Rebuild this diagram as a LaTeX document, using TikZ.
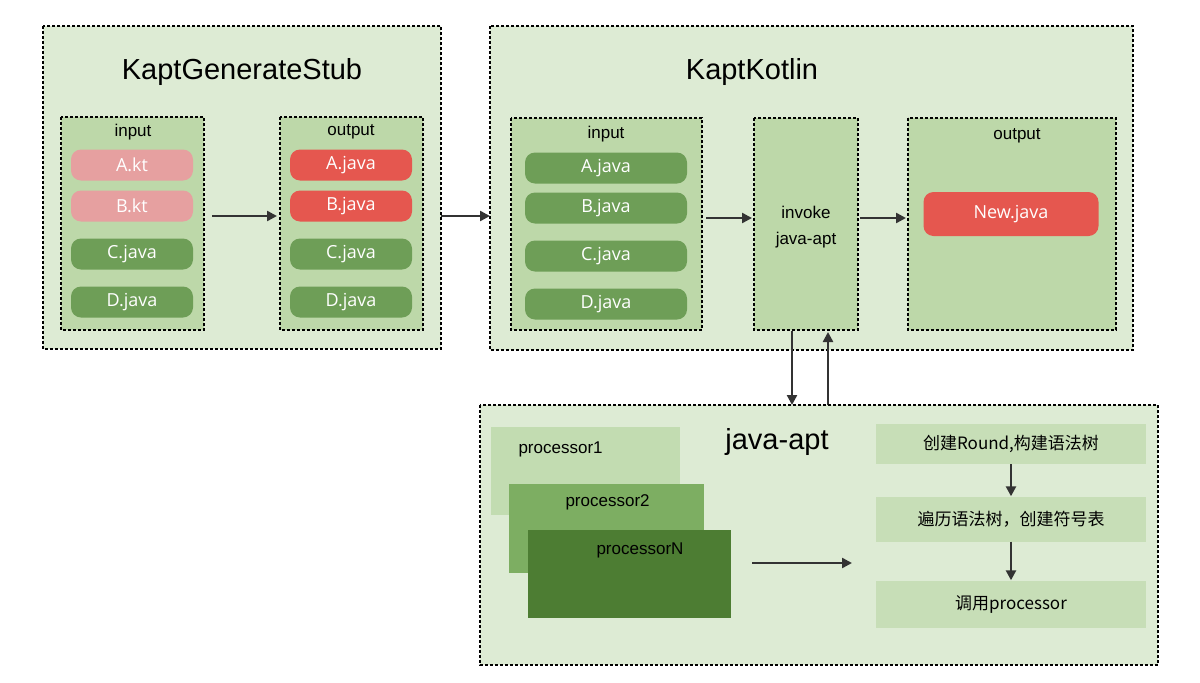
\documentclass[tikz,border=0pt]{standalone}
\usepackage{fontspec}
\setmainfont{Liberation Sans}
\newfontfamily\pillfont{Open Sans}
\newfontfamily\cjk{Noto Sans CJK SC}
\usetikzlibrary{arrows.meta}
\definecolor{bgg}{HTML}{DDEBD4}
\definecolor{ing}{HTML}{BDD8A9}
\definecolor{pink}{HTML}{E6A0A0}
\definecolor{redp}{HTML}{E5574F}
\definecolor{grp}{HTML}{6E9E57}
\definecolor{p1}{HTML}{C2DCB1}
\definecolor{p2}{HTML}{7DAE62}
\definecolor{pn}{HTML}{4D7D33}
\definecolor{stp}{HTML}{C7DEB7}
\begin{document}
\begin{tikzpicture}[x=1pt,y=-1pt,
  outer/.style={draw=black,line width=2.6pt,dash pattern=on 2.6pt off 2.4pt,fill=bgg},
  inner/.style={draw=black,line width=2.6pt,dash pattern=on 2.6pt off 2.4pt,fill=ing},
  pill/.style={rounded corners=10pt,minimum width=122pt,minimum height=31pt,inner sep=0pt,
    text=white,font=\pillfont\fontsize{18}{18}\selectfont},
  lab/.style={font=\fontsize{17}{17}\selectfont},
  title/.style={font=\fontsize{29}{29}\selectfont},
  aptstep/.style={fill=stp,minimum width=270pt,inner sep=0pt,font=\cjk\fontsize{17}{17}\selectfont},
  arr/.style={-{Triangle[length=10pt,width=10pt]},line width=2.4pt,draw=black!80}]
\useasboundingbox (0,0) rectangle (1200,683);
\fill[white] (0,0) rectangle (1200,683);
% KaptGenerateStub
\draw[outer] (43,26) rectangle (441,349);
\coordinate (b1r) at (441,216);
\node[title] at (242,72) {KaptGenerateStub};
\draw[inner] (61,117) rectangle (204,330);
\node[lab] at (133,132) {input};
\node[pill,fill=pink] (akt) at (132,165) {A.kt};
\node[pill,fill=pink] (bkt) at (132,206) {B.kt};
\node[pill,fill=grp] (cj1) at (132,254) {C.java};
\node[pill,fill=grp] (dj1) at (132,302) {D.java};
\draw[inner] (280,117) rectangle (423,330);
\node[lab] at (351,132) {output};
\node[pill,fill=redp] (aj1) at (351,165) {A.java};
\node[pill,fill=redp] (bj1) at (351,206) {B.java};
\node[pill,fill=grp] (cj2) at (351,254) {C.java};
\node[pill,fill=grp] (dj2) at (351,302) {D.java};
\coordinate (a1s) at (212,216);
\coordinate (a1e) at (277,216);
\draw[arr] (a1s) -- (a1e);
% KaptKotlin
\draw[outer] (490,26) rectangle (1133,350);
\coordinate (b2l) at (490,216);
\draw[arr] (b1r) -- (b2l);
\node[title] at (752,72) {KaptKotlin};
\draw[inner] (511,118) rectangle (702,330);
\node[lab] at (606,134) {input};
\node[pill,fill=grp,minimum width=162pt] (ja) at (606,168) {A.java};
\node[pill,fill=grp,minimum width=162pt] (jb) at (606,208) {B.java};
\node[pill,fill=grp,minimum width=162pt] (jc) at (606,256) {C.java};
\node[pill,fill=grp,minimum width=162pt] (jd) at (606,304) {D.java};
\draw[inner] (754,118) rectangle (858,330);
\node[lab,align=center] (inv) at (806,227) {invoke\\[9pt]java-apt};
\draw[inner] (908,118) rectangle (1116,330);
\node[lab] at (1017,136) {output};
\node[pill,fill=redp,minimum width=175pt,minimum height=44pt] (nj) at (1011,214) {New.java};
\coordinate (a2s) at (706,218); \coordinate (a2e) at (752,218);
\coordinate (a3s) at (860,218); \coordinate (a3e) at (906,218);
\draw[arr] (a2s) -- (a2e);
\draw[arr] (a3s) -- (a3e);
% java-apt
\coordinate (d1s) at (792,331); \coordinate (d1e) at (792,405);
\coordinate (u1s) at (828,405); \coordinate (u1e) at (828,332);
\draw[arr] (d1s) -- (d1e);
\draw[arr] (u1s) -- (u1e);
\draw[outer] (480,405) rectangle (1158,665);
\node[title] at (777,442) {java-apt};
\fill[p1] (491,427) rectangle (680,515);
\node[lab,anchor=west] (pr1) at (515,449) {processor1};
\fill[p2] (509,484) rectangle (704,573);
\node[lab,anchor=west] (pr2) at (562,502) {processor2};
\fill[pn] (528,530) rectangle (731,618);
\node[lab,anchor=west] (prn) at (593,550) {processorN};
\coordinate (a4s) at (752,563); \coordinate (a4e) at (852,563);
\draw[arr] (a4s) -- (a4e);
\node[aptstep,minimum height=40pt] (s1) at (1011,444) {创建Round,构建语法树};
\node[aptstep,minimum height=45pt] (s2) at (1011,519) {遍历语法树，创建符号表};
\node[aptstep,minimum height=47pt] (s3) at (1011,604) {调用processor};
\draw[arr] (s1) -- (s2);
\draw[arr] (s2) -- (s3);
\end{tikzpicture}
\end{document}
